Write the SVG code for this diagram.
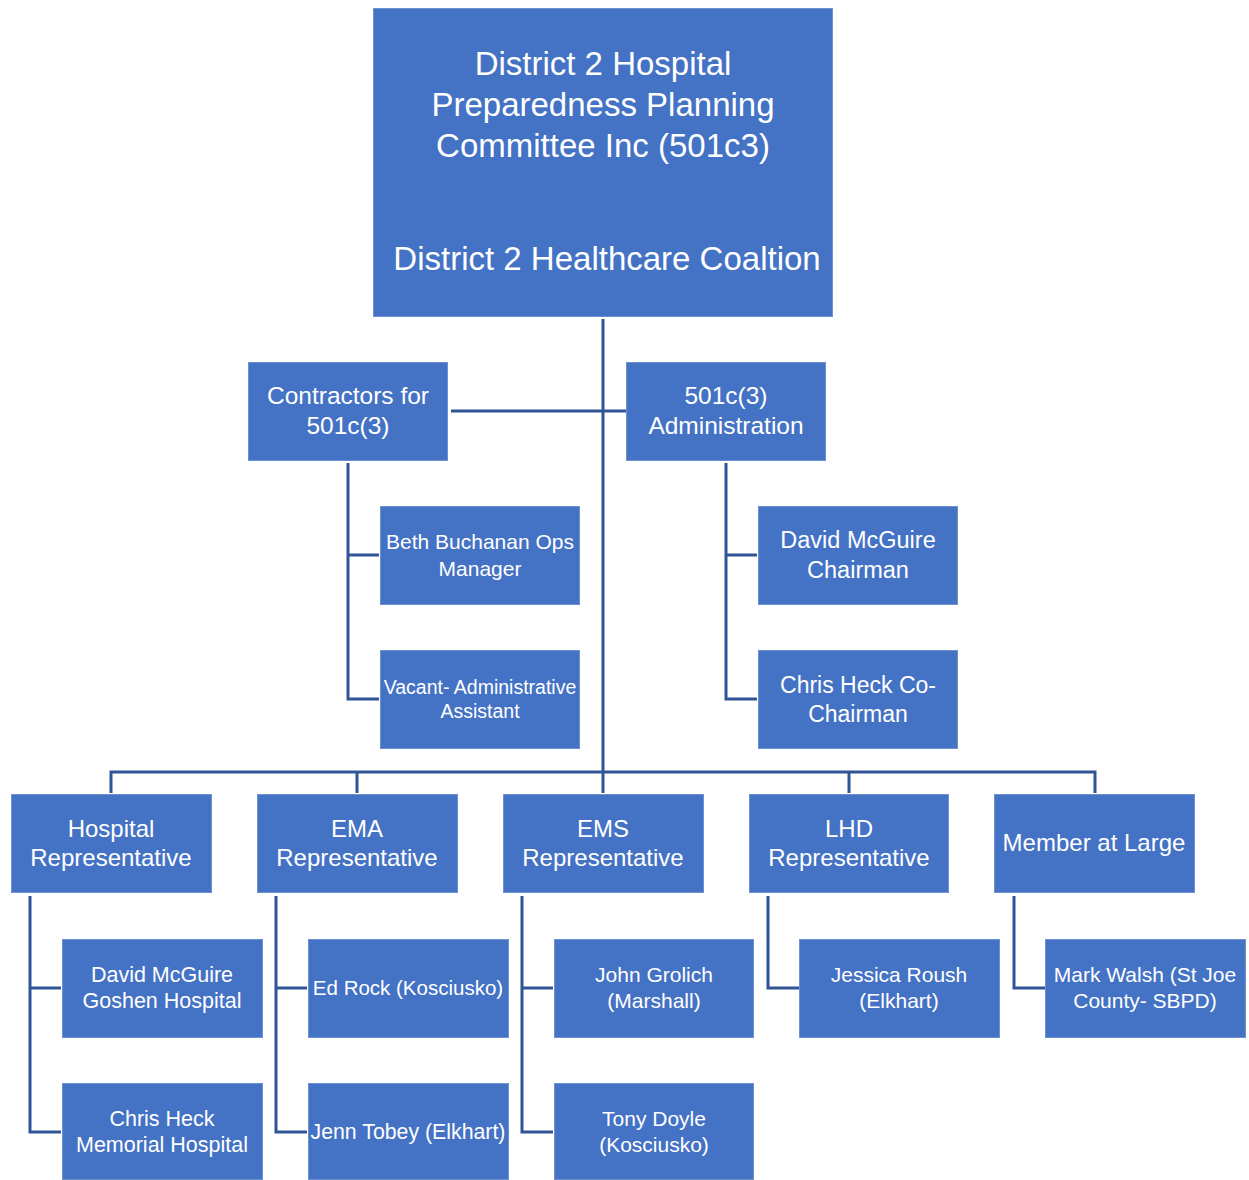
<svg xmlns="http://www.w3.org/2000/svg" width="1249" height="1180" viewBox="0 0 1249 1180">
<style>
.box{fill:#4472C4;stroke:#6E91D2;stroke-width:1}
.t{fill:#FFFFFF;font-family:"Liberation Sans",Arial,sans-serif;text-anchor:middle}
.c{fill:none;stroke:#2F5597;stroke-width:3}
</style>
<rect width="1249" height="1180" fill="#FFFFFF"/>
<g id="connectors">
<path class="c" d="M603 319V772"/>
<path class="c" d="M451 411H626"/>
<path class="c" d="M348 463V699H379M348 555H379"/>
<path class="c" d="M726 463V699H757M726 555H757"/>
<path class="c" d="M111 793V772H1095V793M357 772V793M603 772V793M849 772V793"/>
<path class="c" d="M30 896V1132H61M30 988H61"/>
<path class="c" d="M276 896V1132H307M276 988H307"/>
<path class="c" d="M522 896V1132H553M522 988H553"/>
<path class="c" d="M768 896V988H799"/>
<path class="c" d="M1014 896V988H1045"/>
</g>
<g id="top">
<rect class="box" x="373.5" y="8.5" width="459" height="308"/>
<text class="t" font-size="33"><tspan x="603" y="75">District 2 Hospital</tspan><tspan x="603" y="116">Preparedness Planning</tspan><tspan x="603" y="157">Committee Inc (501c3)</tspan><tspan x="607" y="270">District 2 Healthcare Coaltion</tspan></text>
</g>
<g id="contractors">
<rect class="box" x="248.5" y="362.5" width="199" height="98"/>
<text class="t" font-size="24.5"><tspan x="348" y="404">Contractors for</tspan><tspan x="348" y="434">501c(3)</tspan></text>
</g>
<g id="admin">
<rect class="box" x="626.5" y="362.5" width="199" height="98"/>
<text class="t" font-size="24.5"><tspan x="726" y="404">501c(3)</tspan><tspan x="726" y="434">Administration</tspan></text>
</g>
<g id="beth">
<rect class="box" x="380.5" y="506.5" width="199" height="98"/>
<text class="t" font-size="21"><tspan x="480" y="549">Beth Buchanan Ops</tspan><tspan x="480" y="576">Manager</tspan></text>
</g>
<g id="vacant">
<rect class="box" x="380.5" y="650.5" width="199" height="98"/>
<text class="t" font-size="19.5"><tspan x="480" y="694">Vacant- Administrative</tspan><tspan x="480" y="718">Assistant</tspan></text>
</g>
<g id="chairman">
<rect class="box" x="758.5" y="506.5" width="199" height="98"/>
<text class="t" font-size="23.5"><tspan x="858" y="548">David McGuire</tspan><tspan x="858" y="578">Chairman</tspan></text>
</g>
<g id="cochairman">
<rect class="box" x="758.5" y="650.5" width="199" height="98"/>
<text class="t" font-size="23"><tspan x="858" y="693">Chris Heck Co-</tspan><tspan x="858" y="722">Chairman</tspan></text>
</g>
<g id="hospital">
<rect class="box" x="11.5" y="794.5" width="200" height="98"/>
<text class="t" font-size="24"><tspan x="111" y="837">Hospital</tspan><tspan x="111" y="866">Representative</tspan></text>
</g>
<g id="ema">
<rect class="box" x="257.5" y="794.5" width="200" height="98"/>
<text class="t" font-size="24"><tspan x="357" y="837">EMA</tspan><tspan x="357" y="866">Representative</tspan></text>
</g>
<g id="ems">
<rect class="box" x="503.5" y="794.5" width="200" height="98"/>
<text class="t" font-size="24"><tspan x="603" y="837">EMS</tspan><tspan x="603" y="866">Representative</tspan></text>
</g>
<g id="lhd">
<rect class="box" x="749.5" y="794.5" width="199" height="98"/>
<text class="t" font-size="24"><tspan x="849" y="837">LHD</tspan><tspan x="849" y="866">Representative</tspan></text>
</g>
<g id="member">
<rect class="box" x="994.5" y="794.5" width="200" height="98"/>
<text class="t" font-size="24" x="1094" y="851">Member at Large</text>
</g>
<g id="goshen">
<rect class="box" x="62.5" y="939.5" width="200" height="98"/>
<text class="t" font-size="21.5"><tspan x="162" y="982">David McGuire</tspan><tspan x="162" y="1008">Goshen Hospital</tspan></text>
</g>
<g id="memorial">
<rect class="box" x="62.5" y="1083.5" width="200" height="96"/>
<text class="t" font-size="21.5"><tspan x="162" y="1126">Chris Heck</tspan><tspan x="162" y="1152">Memorial Hospital</tspan></text>
</g>
<g id="edrock">
<rect class="box" x="308.5" y="939.5" width="200" height="98"/>
<text class="t" font-size="20.5" x="408" y="995">Ed Rock (Kosciusko)</text>
</g>
<g id="jenn">
<rect class="box" x="308.5" y="1083.5" width="200" height="96"/>
<text class="t" font-size="21.3" x="408" y="1139">Jenn Tobey (Elkhart)</text>
</g>
<g id="john">
<rect class="box" x="554.5" y="939.5" width="199" height="98"/>
<text class="t" font-size="21"><tspan x="654" y="982">John Grolich</tspan><tspan x="654" y="1008">(Marshall)</tspan></text>
</g>
<g id="tony">
<rect class="box" x="554.5" y="1083.5" width="199" height="96"/>
<text class="t" font-size="21"><tspan x="654" y="1126">Tony Doyle</tspan><tspan x="654" y="1152">(Kosciusko)</tspan></text>
</g>
<g id="jessica">
<rect class="box" x="799.5" y="939.5" width="200" height="98"/>
<text class="t" font-size="21"><tspan x="899" y="982">Jessica Roush</tspan><tspan x="899" y="1008">(Elkhart)</tspan></text>
</g>
<g id="mark">
<rect class="box" x="1045.5" y="939.5" width="200" height="98"/>
<text class="t" font-size="21"><tspan x="1145" y="982">Mark Walsh (St Joe</tspan><tspan x="1145" y="1008">County- SBPD)</tspan></text>
</g>
</svg>
